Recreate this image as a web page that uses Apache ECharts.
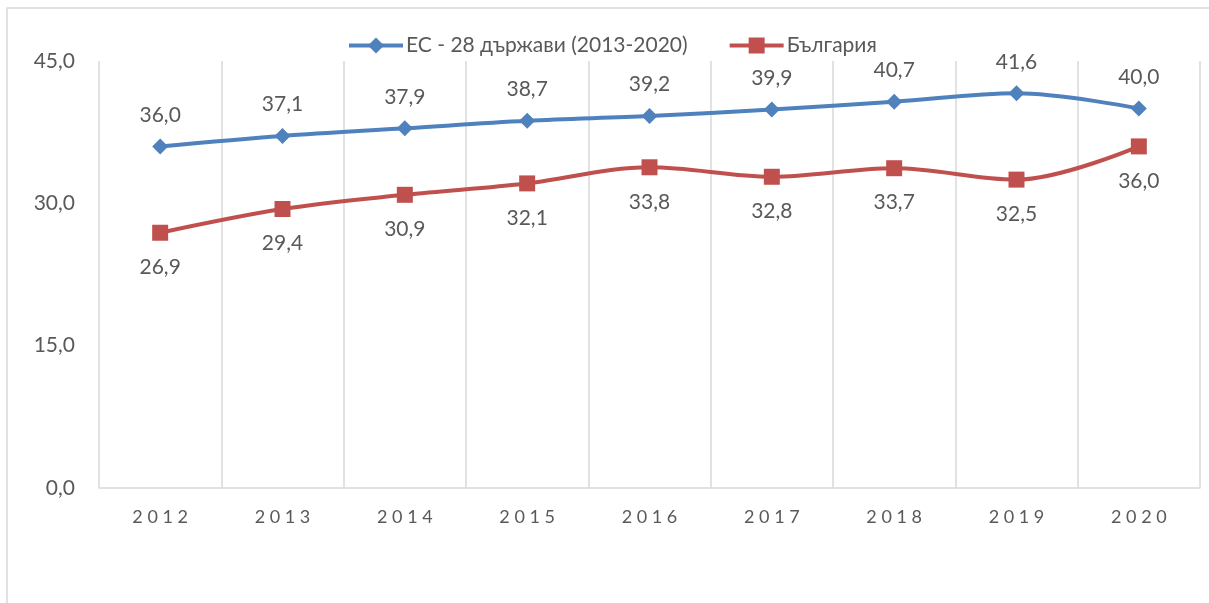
<!DOCTYPE html>
<html>
<head>
<meta charset="utf-8">
<script src="https://cdn.jsdelivr.net/npm/echarts@6/dist/echarts.min.js"></script>
<style>
  html, body { margin: 0; padding: 0; background: #fff; }
  #chart { width: 1209px; height: 603px; }
</style>
</head>
<body>
<div id="chart"></div>
<script>
const years = ['2012', '2013', '2014', '2015', '2016', '2017', '2018', '2019', '2020'];
const euValues = [36.0, 37.1, 37.9, 38.7, 39.2, 39.9, 40.7, 41.6, 40.0];
const bgValues = [26.9, 29.4, 30.9, 32.1, 33.8, 32.8, 33.7, 32.5, 36.0];
const seriesNames = ['ЕС - 28 държави (2013-2020)', 'България'];

const fontFamily = 'Lato, "Open Sans", sans-serif';
const textColor = '#595959';
const fmt = v => v.toFixed(1).replace('.', ',');

const chart = echarts.init(document.getElementById('chart'));

const option = {
    animation: false,
    textStyle: {fontFamily: fontFamily},
    graphic: [{
        type: 'rect',
        shape: {x: 7, y: 8, width: 1400, height: 800},
        style: {fill: 'none', stroke: '#d9d9d9', lineWidth: 1.5},
        silent: true
    }],
    legend: {
        top: 30,
        left: 342,
        itemWidth: 54,
        itemHeight: 20,
        itemGap: 40,
        lineStyle: {width: 4},
        textStyle: {color: textColor, fontSize: 21, fontFamily: fontFamily, padding: [0, 0, 0, -2]},
        data: seriesNames
    },
    grid: {
        left: 99,
        right: 9,
        top: 61,
        bottom: 115
    },
    xAxis: {
        type: 'category',
        data: years,
        boundaryGap: true,
        axisLine: {lineStyle: {color: '#d9d9d9', width: 1.5}},
        axisTick: {show: false},
        axisLabel: {
            color: textColor,
            fontSize: 18,
            margin: 20,
            formatter: v => v.split('').join(' ')
        },
        splitLine: {show: true, lineStyle: {color: '#d9d9d9', width: 1.5}}
    },
    yAxis: {
        type: 'value',
        min: 0,
        max: 45,
        interval: 15,
        axisLine: {show: false},
        axisTick: {show: false},
        splitLine: {show: false},
        axisLabel: {
            color: textColor,
            fontSize: 21,
            margin: 24,
            formatter: v => fmt(v)
        }
    },
    series: [
        {
            name: seriesNames[0],
            type: 'line',
            data: euValues,
            smooth: 0.35,
            symbol: 'diamond',
            symbolSize: 16,
            itemStyle: {color: '#4f81bd'},
            lineStyle: {color: '#4f81bd', width: 4},
            label: {
                show: true,
                position: 'top',
                distance: 13,
                color: textColor,
                fontSize: 21,
                formatter: p => fmt(p.value)
            }
        },
        {
            name: seriesNames[1],
            type: 'line',
            data: bgValues,
            smooth: 0.35,
            symbol: 'rect',
            symbolSize: 16,
            itemStyle: {color: '#c0504d'},
            lineStyle: {color: '#c0504d', width: 4},
            label: {
                show: true,
                position: 'bottom',
                distance: 16,
                color: textColor,
                fontSize: 21,
                formatter: p => fmt(p.value)
            }
        }
    ]
};

chart.setOption(option);
</script>
</body>
</html>
